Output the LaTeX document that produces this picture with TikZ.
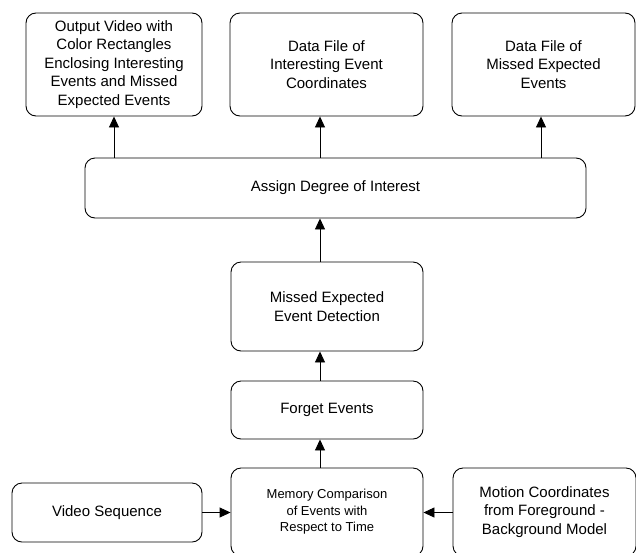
\documentclass[tikz,border=0pt]{standalone}
\usepackage{fontspec}
\setmainfont{Liberation Sans}
\usetikzlibrary{arrows.meta}
\begin{document}
\begin{tikzpicture}[x=1pt,y=-1pt,
  box/.style={draw,line width=0.9pt,rounded corners=10pt,align=center,inner sep=0pt,
    font=\fontsize{15}{18.5}\selectfont},
  arr/.style={line width=0.9pt,-{Triangle[length=11pt,width=10pt]}}]
\useasboundingbox (0,0) rectangle (636,552);
\clip (0,0) rectangle (636,552);
% top outputs
\node[box,minimum width=176pt,minimum height=103pt] (out1) at (114,64.5)
  {Output Video with\\Color Rectangles\\Enclosing Interesting\\Events and Missed\\Expected Events};
\node[box,minimum width=193pt,minimum height=103pt] (out2) at (326.5,64.5)
  {Data File of\\Interesting Event\\Coordinates};
\node[box,minimum width=183pt,minimum height=103pt] (out3) at (543.5,64.5)
  {Data File of\\Missed Expected\\Events};
% middle chain
\node[box,minimum width=501pt,minimum height=60pt] (assign) at (335.5,188)
  {Assign Degree of Interest};
\node[box,minimum width=192pt,minimum height=89pt] (missed) at (327,306.5)
  {Missed Expected\\Event Detection};
\node[box,minimum width=192pt,minimum height=58pt] (forget) at (327,410)
  {Forget Events};
\node[box,minimum width=192pt,minimum height=88pt,font=\fontsize{13}{16.5}\selectfont] (memory) at (327,512)
  {Memory Comparison\\of Events with\\Respect to Time};
% inputs
\node[box,minimum width=190pt,minimum height=59pt] (video) at (107,512.5)
  {Video Sequence};
\node[box,minimum width=183pt,minimum height=88pt] (motion) at (544.5,512)
  {Motion Coordinates\\from Foreground -\\Background Model};
% connectors
\draw[arr] (out1.south |- assign.north) -- (out1.south);
\draw[arr] ([xshift=-6.5pt]out2.south |- assign.north) -- ([xshift=-6.5pt]out2.south);
\draw[arr] ([xshift=-2.5pt]out3.south |- assign.north) -- ([xshift=-2.5pt]out3.south);
\draw[arr] ([xshift=-7pt]missed.north) -- ([xshift=-7pt]missed.north |- assign.south);
\draw[arr] ([xshift=-7pt]forget.north) -- ([xshift=-7pt]forget.north |- missed.south);
\draw[arr] ([xshift=-7pt]memory.north) -- ([xshift=-7pt]memory.north |- forget.south);
\draw[arr] (video.east) -- (video.east -| memory.west);
\draw[arr] (motion.west |- video.east) -- (memory.east |- video.east);
\end{tikzpicture}
\end{document}
